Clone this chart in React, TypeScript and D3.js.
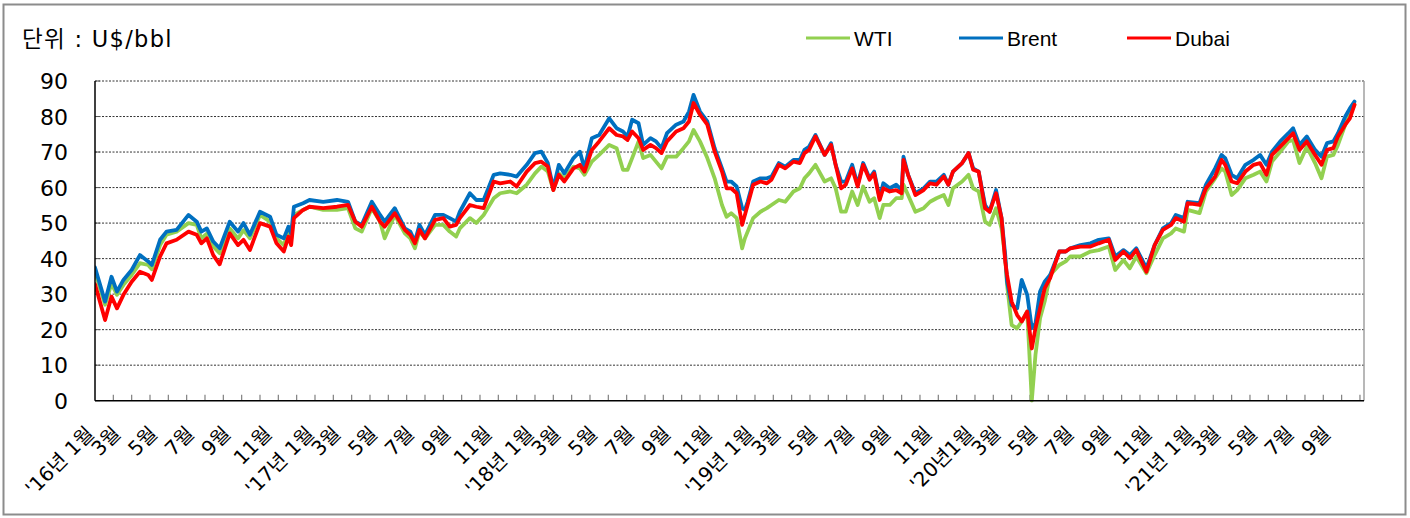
import React from "react";
import * as d3 from "d3";

// x position in months from Jan 2016 (0 = start of '16년 1월)
const monthPos = [
  0, 0.55, 0.9, 1.2, 1.55, 2, 2.45, 2.9, 3.1, 3.55,
  3.9, 4.45, 5.1, 5.55, 5.8, 6.1, 6.45, 6.8, 7.35, 7.8,
  8.1, 8.45, 9, 9.55, 9.9, 10.3, 10.55, 10.7, 10.85, 11.35,
  11.7, 12.45, 13.2, 13.8, 14.2, 14.55, 15.1, 15.55, 15.8, 16.35,
  16.9, 17.2, 17.45, 17.7, 18, 18.55, 19, 19.35, 19.7, 19.9,
  20.45, 20.8, 21.2, 21.75, 22.1, 22.65, 23, 23.55, 24, 24.35,
  24.7, 25, 25.3, 25.6, 26.1, 26.45, 26.7, 27.1, 27.5, 28.05,
  28.45, 28.8, 29.05, 29.3, 29.65, 29.9, 30.3, 30.6, 30.9, 31.2,
  31.7, 32.1, 32.4, 32.65, 33, 33.4, 33.8, 34.2, 34.45, 34.7,
  35, 35.3, 35.45, 35.6, 35.9, 36.3, 36.65, 36.9, 37.3, 37.65,
  38.1, 38.45, 38.7, 38.95, 39.3, 39.8, 40.15, 40.4, 40.7, 40.95,
  41.3, 41.6, 41.9, 42.25, 42.5, 42.8, 43, 43.35, 43.7, 44,
  44.1, 44.35, 44.75, 45.2, 45.55, 45.9, 46.3, 46.55, 46.8, 47.3,
  47.65, 47.9, 48.2, 48.55, 48.8, 49.15, 49.45, 49.65, 49.75, 50,
  50.3, 50.55, 50.85, 51.1, 51.3, 51.55, 51.8, 52.1, 52.6, 52.95,
  53.2, 53.75, 54.3, 54.75, 55.3, 55.65, 56.1, 56.45, 56.8, 57.35,
  57.8, 58.25, 58.7, 58.95, 59.4, 59.6, 60.25, 60.6, 61.1, 61.45,
  61.65, 62, 62.3, 62.75, 63.2, 63.55, 63.9, 64.2, 64.65, 65.1,
  65.35, 65.7, 66.1, 66.55, 66.9, 67.2, 67.55, 67.8, 68.2, 68.45,
  68.7,
];

const wti = [
  36.3, 27.0, 33.0, 29.8, 32.6, 35.4, 38.7, 38.2, 37.0, 43.8,
  46.7, 47.6, 50.0, 49.5, 45.7, 47.0, 43.4, 41.5, 48.5, 45.7,
  48.0, 45.7, 52.3, 50.4, 45.7, 43.8, 47.5, 45.5, 52.3, 53.7,
  54.6, 53.7, 53.7, 54.2, 48.5, 47.6, 54.2, 50.4, 45.7, 52.3,
  47.1, 45.7, 42.9, 47.6, 45.7, 49.5, 49.5, 47.6, 46.2, 48.5,
  51.4, 50.0, 52.3, 57.0, 58.4, 58.9, 58.4, 60.8, 64.0, 65.9,
  64.5, 59.3, 64.0, 62.6, 65.9, 65.4, 63.6, 67.3, 69.2, 72.0,
  71.1, 65.0, 65.0, 68.3, 73.0, 68.3, 69.2, 67.3, 65.4, 68.7,
  68.7, 71.1, 73.0, 76.2, 73.0, 68.3, 62.6, 55.1, 51.8, 52.8,
  51.4, 42.9, 45.7, 47.6, 51.4, 53.2, 54.2, 55.1, 56.5, 56.0,
  58.9, 59.8, 62.6, 64.0, 66.4, 61.7, 62.6, 59.8, 53.2, 53.2,
  58.9, 55.1, 60.3, 56.0, 57.0, 51.4, 55.1, 55.1, 57.0, 57.0,
  60.8, 57.9, 53.2, 54.2, 56.0, 57.0, 57.9, 55.1, 59.8, 61.7,
  63.6, 59.8, 58.9, 50.4, 49.5, 54.2, 48.5, 40.1, 32.6, 21.3,
  20.4, 22.3, 25.1, 0, 12.9, 23.2, 27.9, 35.4, 38.2, 39.2,
  40.6, 40.6, 42.0, 42.4, 43.4, 36.8, 39.6, 37.3, 40.6, 35.9,
  41.0, 45.7, 47.1, 48.5, 47.6, 53.7, 52.8, 58.9, 62.6, 65.4,
  64.5, 57.9, 59.3, 62.6, 63.6, 64.5, 61.7, 67.3, 70.1, 73.0,
  73.4, 66.9, 71.5, 66.9, 62.6, 68.7, 69.2, 72.0, 77.7, 80.5,
  83.3,
];

const brent = [
  37.5, 27.9, 34.9, 30.7, 34.0, 36.8, 41.0, 39.2, 38.2, 45.3,
  47.6, 48.1, 52.3, 50.4, 47.6, 48.5, 44.8, 42.9, 50.4, 47.6,
  50.0, 46.7, 53.2, 51.8, 46.7, 45.7, 49.0, 47.0, 54.6, 55.6,
  56.5, 56.0, 56.5, 56.0, 50.4, 49.5, 56.0, 52.3, 50.4, 54.2,
  48.5, 47.6, 44.8, 49.5, 46.7, 52.3, 52.3, 51.4, 50.4, 53.2,
  58.4, 56.5, 56.5, 63.6, 64.0, 63.6, 63.1, 66.4, 69.7, 70.1,
  66.9, 59.8, 66.4, 64.0, 68.3, 70.1, 65.4, 73.9, 74.8, 79.5,
  76.7, 75.8, 74.4, 79.1, 78.1, 72.0, 73.9, 73.0, 71.1, 75.3,
  77.7, 78.6, 81.4, 86.1, 81.4, 78.6, 71.1, 65.4, 61.7, 61.7,
  60.3, 54.2, 53.7, 56.0, 61.7, 62.6, 62.6, 63.1, 66.9, 65.9,
  67.8, 67.8, 70.6, 71.5, 74.8, 69.2, 72.5, 66.4, 61.7, 61.7,
  66.4, 60.8, 66.9, 62.6, 64.5, 57.0, 61.2, 59.8, 60.8, 59.3,
  68.7, 63.6, 58.4, 59.8, 61.7, 61.7, 63.6, 60.8, 64.5, 66.9,
  69.7, 65.4, 64.5, 55.1, 53.2, 59.3, 51.4, 41.0, 33.5, 26.9,
  26.0, 34.0, 29.8, 20.4, 21.8, 30.7, 33.5, 35.4, 42.0, 42.0,
  42.9, 43.8, 44.3, 45.3, 45.7, 40.6, 42.4, 41.0, 42.9, 37.3,
  43.8, 48.5, 50.0, 52.3, 51.4, 56.0, 55.6, 60.8, 65.4, 69.2,
  68.3, 63.6, 62.6, 66.4, 67.8, 69.2, 66.4, 70.1, 73.0, 75.3,
  76.7, 72.0, 74.4, 70.6, 68.7, 72.5, 73.0, 75.3, 80.0, 82.3,
  84.2,
];

const dubai = [
  32.8, 22.7, 29.3, 26.0, 29.8, 33.5, 36.3, 35.4, 34.0, 40.6,
  44.3, 45.3, 47.6, 46.7, 44.3, 45.7, 41.0, 38.4, 47.1, 43.8,
  45.3, 42.4, 50.0, 49.0, 44.3, 42.0, 46.2, 43.8, 51.4, 53.7,
  54.6, 54.2, 54.6, 55.1, 50.4, 49.0, 54.6, 50.4, 49.0, 52.8,
  48.1, 46.7, 44.3, 48.1, 45.7, 50.9, 51.4, 49.0, 49.5, 51.4,
  55.1, 54.6, 54.2, 61.7, 61.2, 61.7, 60.3, 64.5, 66.9, 67.3,
  65.9, 59.3, 63.6, 61.7, 65.4, 66.4, 64.5, 70.6, 73.0, 76.7,
  74.8, 74.4, 73.4, 75.8, 73.9, 70.6, 72.0, 71.1, 69.7, 73.0,
  75.8, 76.7, 78.6, 83.8, 80.5, 77.7, 70.1, 64.5, 59.8, 59.8,
  58.4, 49.5, 52.3, 55.1, 60.8, 61.7, 61.2, 62.2, 66.4, 65.4,
  67.3, 66.9, 69.7, 70.6, 74.4, 69.2, 72.0, 66.4, 59.8, 60.8,
  65.4, 60.3, 66.4, 62.2, 64.0, 56.5, 59.8, 58.9, 59.3, 58.4,
  67.8, 63.6, 57.9, 59.3, 61.2, 60.8, 63.1, 60.8, 64.5, 66.9,
  69.7, 65.0, 64.5, 54.2, 53.2, 58.4, 51.4, 39.2, 35.4, 27.9,
  24.1, 22.3, 25.1, 14.7, 20.4, 26.0, 31.6, 34.5, 42.0, 42.0,
  42.9, 43.4, 43.4, 44.3, 45.3, 39.6, 42.0, 40.1, 42.4, 36.3,
  43.8, 48.1, 49.5, 51.4, 50.4, 55.6, 55.1, 59.8, 63.1, 67.8,
  66.4, 61.7, 61.2, 64.5, 66.4, 66.9, 63.6, 69.2, 71.5, 73.9,
  75.3, 70.6, 73.0, 69.2, 66.4, 70.6, 71.1, 74.4, 77.7, 79.5,
  83.3,
];

const yTicks = [0, 10, 20, 30, 40, 50, 60, 70, 80, 90];

// one label every two months, starting at '16년 1월
const xLabels = [
  "'16년 1월", "3월", "5월", "7월", "9월", "11월",
  "'17년 1월", "3월", "5월", "7월", "9월", "11월",
  "'18년 1월", "3월", "5월", "7월", "9월", "11월",
  "'19년 1월", "3월", "5월", "7월", "9월", "11월",
  "'20년1월", "3월", "5월", "7월", "9월", "11월",
  "'21년 1월", "3월", "5월", "7월", "9월",
];

const seriesNames = ["WTI", "Brent", "Dubai"];
const seriesColors = ["#92D050", "#0070C0", "#FF0000"];
const seriesData = [wti, brent, dubai];

const FONT = "'Liberation Sans', Arial, 'Noto Sans CJK KR', sans-serif";
const FONT_KR = "'DejaVu Sans', 'Noto Sans CJK KR', sans-serif";

const App = () => {
  const W = 1410, H = 518;
  const left = 95, right = 1364, top = 81, bottom = 400.7;
  const totalMonths = 69.22;

  const x = d3.scaleLinear().domain([0, totalMonths]).range([left, right]);
  const y = d3.scaleLinear().domain([0, 90]).range([bottom, top]);

  const line = d3.line<number>()
    .x((d, i) => x(monthPos[i]))
    .y(d => y(d));

  const monthTicks = d3.range(1, 70);
  const legendX = [806, 959, 1127];

  return (
    <svg width={W} height={H} style={{ position: "absolute", left: 0, top: 0, background: "#fff" }}>
      <rect x={3.5} y={4.5} width={1402} height={510} fill="#fff" stroke="#8c8c8c" strokeWidth={2} />

      <text x={22} y={47} fontFamily={FONT_KR} fontSize={22.5} letterSpacing={1.3} fill="#000">단위 : U$/bbl</text>

      {seriesNames.map((name, i) => (
        <g key={name}>
          <line x1={legendX[i]} x2={legendX[i] + 44} y1={38} y2={38} stroke={seriesColors[i]} strokeWidth={3} />
          <text x={legendX[i] + 48} y={46} fontFamily={FONT} fontSize={21} fill="#000">{name}</text>
        </g>
      ))}

      {yTicks.map(t => (
        <g key={t}>
          {t > 0 && (
            <line x1={left} x2={right} y1={y(t)} y2={y(t)} stroke="#333" strokeWidth={1} strokeDasharray="2,1.5" />
          )}
          <line x1={left} x2={left + 5} y1={y(t)} y2={y(t)} stroke="#555" />
          <text x={68} y={y(t) + 8} textAnchor="end" fontFamily={FONT_KR} fontSize={22} fill="#000">{t}</text>
        </g>
      ))}

      <line x1={right} x2={right} y1={top} y2={bottom} stroke="#a0a0a0" strokeWidth={1.5} />

      {monthTicks.map(m => (
        <line key={m} x1={x(m)} x2={x(m)} y1={bottom} y2={bottom - 6} stroke="#808080" strokeWidth={1.2} />
      ))}

      <defs>
        <clipPath id="plotClip">
          <rect x={left} y={top - 10} width={right - left} height={bottom - top + 12} />
        </clipPath>
      </defs>
      <g clipPath="url(#plotClip)">
        {seriesData.map((vals, i) => (
          <path key={seriesNames[i]} d={line(vals) || ""} fill="none" stroke={seriesColors[i]}
            strokeWidth={3.8} strokeLinejoin="round" strokeLinecap="round" />
        ))}
      </g>

      <line x1={left} x2={left} y1={top} y2={bottom} stroke="#000" strokeWidth={1.5} />
      <line x1={left} x2={right} y1={bottom} y2={bottom} stroke="#000" strokeWidth={1.5} />

      {xLabels.map((lab, i) => {
        const cx = x(2 * i + 0.5);
        const n = Array.from(lab).length;
        const isYear = lab.includes("년");
        const ax = isYear ? cx - 9 : cx - 19 + (n - 2) * 4.5;
        const ay = 435;
        return (
          <text key={i} x={ax} y={ay} transform={`rotate(-45 ${ax} ${ay})`} textAnchor="end"
            fontFamily={FONT_KR} fontSize={20} fill="#000">{lab}</text>
        );
      })}
    </svg>
  );
};

export default App;
